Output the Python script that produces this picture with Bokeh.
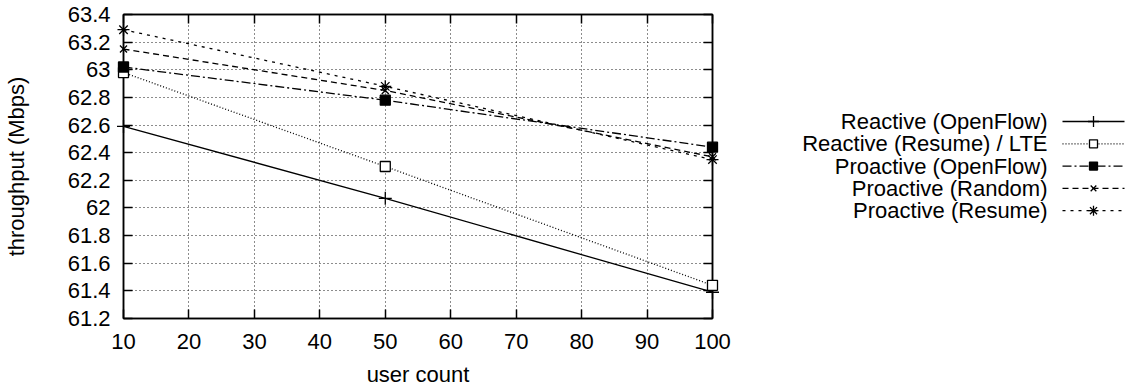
from bokeh.plotting import figure
from bokeh.models import Range1d, LinearAxis, FixedTicker, NumeralTickFormatter, CustomJSTickFormatter
from bokeh.layouts import row
from bokeh.embed import file_html
from bokeh.resources import INLINE
from bokeh.core.properties import value

# ---- data ----
user_count = [10, 50, 100]
reactive_openflow = [62.59, 62.07, 61.39]
reactive_resume_lte = [62.98, 62.30, 61.44]
proactive_openflow = [63.02, 62.78, 62.44]
proactive_random = [63.15, 62.85, 62.37]
proactive_resume = [63.29, 62.88, 62.35]

series_names = ["Reactive (OpenFlow)", "Reactive (Resume) / LTE", "Proactive (OpenFlow)",
                "Proactive (Random)", "Proactive (Resume)"]
series_values = [reactive_openflow, reactive_resume_lte, proactive_openflow,
                 proactive_random, proactive_resume]
x_ticks = [10, 20, 30, 40, 50, 60, 70, 80, 90, 100]
y_ticks = [61.2, 61.4, 61.6, 61.8, 62.0, 62.2, 62.4, 62.6, 62.8, 63.0, 63.2, 63.4]

# ---- styles ----
FONT = "Liberation Sans"
FS = "22px"
dashes = ["solid", "1 2", "9 3 2 3", "6 4", "3 5"]
markers = ["cross", "square", "square", "x", "asterisk"]
fills = [None, "white", "black", None, None]
msizes = [13, 10, 10, 10, 12]

p = figure(width=740, height=390, output_backend="svg", toolbar_location=None,
           x_range=Range1d(10, 100), y_range=Range1d(61.2, 63.4),
           min_border_left=123, min_border_right=28, min_border_top=14, min_border_bottom=72,
           x_axis_label="user count", y_axis_label="throughput (Mbps)")
p.outline_line_color = "black"
p.outline_line_width = 1.5
p.background_fill_color = "white"
p.border_fill_color = "white"

p.xaxis.ticker = FixedTicker(ticks=x_ticks)
p.yaxis.ticker = FixedTicker(ticks=y_ticks)
p.yaxis.formatter = NumeralTickFormatter(format="0.[0]")
for ax in [p.xaxis[0], p.yaxis[0]]:
    ax.major_tick_in = 9
    ax.major_tick_out = 0
    ax.minor_tick_line_color = None
    ax.axis_line_width = 1.5
    ax.major_tick_line_width = 1.5
    ax.axis_line_color = "black"
    ax.major_tick_line_color = "black"
    ax.major_label_text_font = FONT
    ax.major_label_text_font_size = FS
    ax.major_label_text_color = "black"
    ax.axis_label_text_font = FONT
    ax.axis_label_text_font_size = FS
    ax.axis_label_text_font_style = "normal"
    ax.axis_label_text_color = "black"
p.xaxis.major_label_standoff = 15
p.yaxis.major_label_standoff = 13
p.xaxis.axis_label_standoff = 10
p.yaxis.axis_label_standoff = 36

for loc, tk in [("above", x_ticks), ("right", y_ticks)]:
    ax = LinearAxis(ticker=FixedTicker(ticks=tk),
                    formatter=CustomJSTickFormatter(code="return ''"))
    ax.major_tick_in = 9
    ax.major_tick_out = 0
    ax.minor_tick_line_color = None
    ax.axis_line_width = 1.5
    ax.major_tick_line_width = 1.5
    ax.major_label_standoff = 0
    p.add_layout(ax, loc)

p.xgrid.ticker = FixedTicker(ticks=x_ticks)
p.ygrid.ticker = FixedTicker(ticks=y_ticks)
for g in [p.xgrid[0], p.ygrid[0]]:
    g.grid_line_color = "black"
    g.grid_line_dash = "1 3"
    g.grid_line_width = 1
    g.grid_line_alpha = 0.9

for vals, d, m, f, s in zip(series_values, dashes, markers, fills, msizes):
    p.line(user_count, vals, line_color="black", line_width=1.3, line_dash=d)
    r = p.scatter(user_count, vals, marker=m, size=s, line_color="black", line_width=1.3,
                  fill_color=f)
    r.level = "overlay"

# ---- legend panel (y data units equal screen pixels) ----
leg = figure(width=398, height=390, output_backend="svg", toolbar_location=None,
             x_range=Range1d(0, 398), y_range=Range1d(318, 14),
             min_border_left=0, min_border_right=0, min_border_top=14, min_border_bottom=72,
             outline_line_color=None)
leg.axis.visible = False
leg.grid.visible = False
leg.background_fill_color = "white"
leg.border_fill_color = "white"

row_y = [121 + 22.3 * i for i in range(len(series_names))]
leg.text(x=[307] * len(series_names), y=row_y, text=series_names,
         text_align="right", text_baseline="middle", text_font=value(FONT),
         text_font_size=FS, text_color="black")
for yy, d, m, f, s in zip(row_y, dashes, markers, fills, msizes):
    leg.line([322, 384], [yy, yy], line_color="black", line_width=1.3, line_dash=d)
    leg.scatter([353], [yy], marker=m, size=s - 2, line_color="black", line_width=1.3,
                fill_color=f)

layout = row(p, leg)
open("out.html", "w").write(file_html(layout, INLINE))
